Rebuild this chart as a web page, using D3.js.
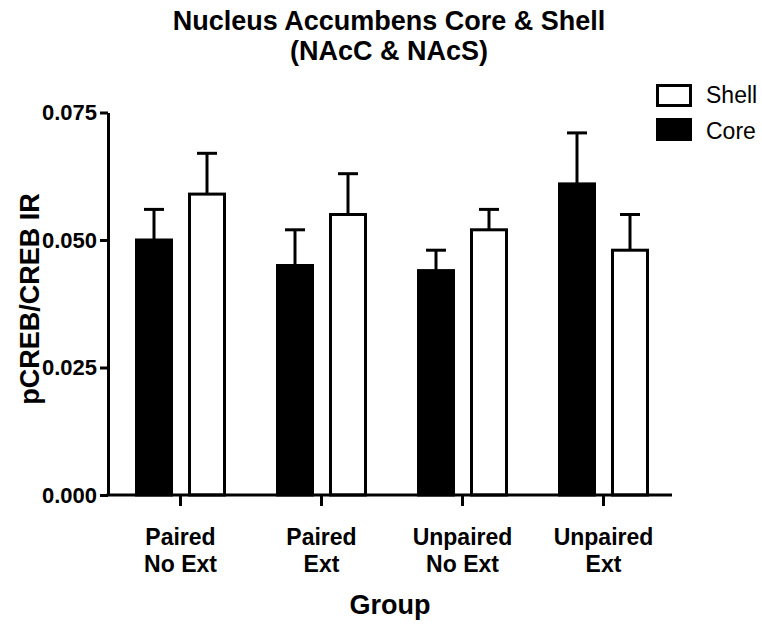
<!DOCTYPE html>
<html>
<head>
<meta charset="utf-8">
<script src="https://cdn.jsdelivr.net/npm/d3@7"></script>
<style>
    body { margin: 0; background: #fff; }
    svg { display: block; font-family: "Liberation Sans", Arial, sans-serif; }
</style>
</head>
<body>
<script>
    // values
    var groups = [["Paired", "No Ext"], ["Paired", "Ext"], ["Unpaired", "No Ext"], ["Unpaired", "Ext"]];
    var series = ["Core", "Shell"];
    var coreMean = [0.050, 0.045, 0.044, 0.061];
    var coreSem = [0.006, 0.007, 0.004, 0.010];
    var shellMean = [0.059, 0.055, 0.052, 0.048];
    var shellSem = [0.008, 0.008, 0.004, 0.007];
    var yTicks = [0.000, 0.025, 0.050, 0.075];
    var legendItems = ["Shell", "Core"];

    var width = 762, height = 627;
    var svg = d3.select("body").append("svg")
        .attr("width", width)
        .attr("height", height);

    var y = d3.scaleLinear().domain([0, 0.075]).range([495, 112.5]);
    var x0 = d3.scaleBand().domain(d3.range(groups.length)).range([110, 674]);
    var x1 = d3.scaleBand().domain(series).range([25, 116]).paddingInner(15 / 53);

    var rows = [];
    groups.forEach(function(g, i) {
        rows.push({ g: i, s: "Core", v: coreMean[i], e: coreSem[i] });
        rows.push({ g: i, s: "Shell", v: shellMean[i], e: shellSem[i] });
    });

    // error bars (upper only)
    var err = svg.append("g").attr("stroke", "#000").attr("stroke-width", 3);
    rows.forEach(function(d) {
        var cx = x0(d.g) + x1(d.s) + x1.bandwidth() / 2;
        err.append("line")
            .attr("x1", cx).attr("x2", cx)
            .attr("y1", y(d.v)).attr("y2", y(d.v + d.e));
        err.append("line")
            .attr("x1", cx - 10).attr("x2", cx + 10)
            .attr("y1", y(d.v + d.e)).attr("y2", y(d.v + d.e));
    });

    // bars
    svg.append("g").selectAll("rect")
        .data(rows)
        .enter().append("rect")
        .attr("x", function(d) { return x0(d.g) + x1(d.s) + 1.5; })
        .attr("width", x1.bandwidth() - 3)
        .attr("y", function(d) { return y(d.v); })
        .attr("height", function(d) { return y(0) - y(d.v); })
        .attr("fill", function(d) { return d.s === "Core" ? "#000" : "#fff"; })
        .attr("stroke", "#000")
        .attr("stroke-width", 3);

    // y axis
    var yAxis = svg.append("g")
        .attr("transform", "translate(108,0)")
        .call(d3.axisLeft(y).tickValues(yTicks).tickFormat(d3.format(".3f")).tickSize(8).tickSizeOuter(0).tickPadding(3));
    yAxis.select(".domain").attr("stroke-width", 3);
    yAxis.selectAll(".tick line").attr("stroke-width", 3);
    yAxis.selectAll("text")
        .attr("font-size", 22)
        .attr("font-weight", "bold")
        .attr("font-family", "Liberation Sans, Arial, sans-serif")
        .attr("fill", "#000");

    // x axis
    var xAxis = svg.append("g")
        .attr("transform", "translate(0,495)");
    xAxis.append("line")
        .attr("x1", 106.5).attr("x2", 672)
        .attr("stroke", "#000").attr("stroke-width", 3);
    groups.forEach(function(g, i) {
        var cx = x0(i) + x0.bandwidth() / 2;
        xAxis.append("line")
            .attr("x1", cx).attr("x2", cx)
            .attr("y1", 0).attr("y2", 11)
            .attr("stroke", "#000").attr("stroke-width", 3);
        var t = xAxis.append("text")
            .attr("text-anchor", "middle")
            .attr("font-size", 23)
            .attr("font-weight", "bold");
        g.forEach(function(line, k) {
            t.append("tspan").attr("x", cx).attr("y", 50 + k * 27).text(line);
        });
    });

    // titles
    svg.append("text")
        .attr("x", 389).attr("y", 30)
        .attr("text-anchor", "middle")
        .attr("font-size", 27).attr("font-weight", "bold")
        .text("Nucleus Accumbens Core & Shell");
    svg.append("text")
        .attr("x", 389).attr("y", 60)
        .attr("text-anchor", "middle")
        .attr("font-size", 27).attr("font-weight", "bold")
        .text("(NAcC & NAcS)");

    svg.append("text")
        .attr("transform", "translate(39,299) rotate(-90)")
        .attr("text-anchor", "middle")
        .attr("font-size", 27).attr("font-weight", "bold")
        .text("pCREB/CREB IR");

    svg.append("text")
        .attr("x", 390).attr("y", 614)
        .attr("text-anchor", "middle")
        .attr("font-size", 27).attr("font-weight", "bold")
        .text("Group");

    // legend
    var legend = svg.append("g");
    legendItems.forEach(function(name, i) {
        legend.append("rect")
            .attr("x", 657.5).attr("y", 85.5 + i * 34)
            .attr("width", 33).attr("height", 20)
            .attr("fill", name === "Core" ? "#000" : "#fff")
            .attr("stroke", "#000").attr("stroke-width", 3);
        legend.append("text")
            .attr("x", 706).attr("y", 103 + i * 36)
            .attr("font-size", 23)
            .text(name);
    });
</script>
</body>
</html>
